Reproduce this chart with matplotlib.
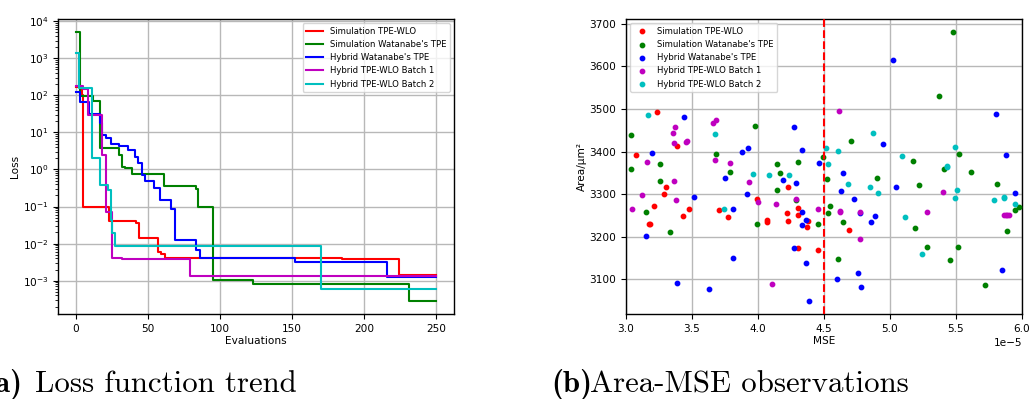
import numpy as np
import matplotlib
matplotlib.use("Agg")
import matplotlib.pyplot as plt

fontsize_tick = 7.6
fontsize_label = 7.6
fontsize_legend = 6.1
fontsize_caption = 22.2
linewidth_main = 1.5

labels = ["Simulation TPE-WLO", "Simulation Watanabe's TPE", "Hybrid Watanabe's TPE",
          "Hybrid TPE-WLO Batch 1", "Hybrid TPE-WLO Batch 2"]
colours = ['r', 'g', 'b', 'm', 'c']

# best loss so far: evaluation where it changes, new value
red_x = [0, 4, 5, 23, 42, 44, 57, 59, 62, 185, 224, 250]
red_y = [170, 105, 0.1, 0.041, 0.035, 0.0138, 0.006, 0.0052, 0.0040, 0.0038, 0.00145, 0.00145]
green_x = [0, 3, 12, 17, 30, 32, 34, 39, 61, 83, 85, 95, 123, 231, 250]
green_y = [5000, 98, 69, 3.8, 2.5, 1.2, 1.1, 0.76, 0.35, 0.3, 0.1, 0.00105, 0.00083, 0.00029, 0.00029]
blue_x = [0, 3, 9, 17, 18, 21, 24, 30, 36, 41, 43, 46, 48, 54, 58, 66, 69, 83, 86, 152, 182, 216, 250]
blue_y = [120, 68, 31, 18, 8.7, 7, 4.9, 4.2, 3.4, 2.2, 1.5, 0.72, 0.49, 0.32, 0.15, 0.085, 0.0126,
          0.0068, 0.0042, 0.0032, 0.0031, 0.00125, 0.00125]
magenta_x = [0, 5, 8, 18, 21, 25, 32, 79, 250]
magenta_y = [182, 150, 29, 2.5, 0.07, 0.0040, 0.0038, 0.0013, 0.0013]
cyan_x = [0, 2, 11, 17, 22, 24, 25, 27, 170, 250]
cyan_y = [1380, 155, 2.1, 0.37, 0.28, 0.044, 0.019, 0.0087, 0.0006, 0.0006]

# Area-MSE observations (MSE in units of 1e-5)
red_mse = [3.078, 3.235, 3.389, 3.306, 3.288, 3.215, 3.174, 3.180, 3.48, 3.435, 3.703, 3.771, 3.996,
           4.066, 4.066, 4.231, 4.218, 4.226, 4.304, 4.304, 4.380, 4.370, 4.301, 4.453, 4.691]
red_area = [3392, 3492, 3414, 3318, 3301, 3272, 3231, 3229, 3266, 3249, 3263, 3247, 3288,
            3240, 3234, 3317, 3256, 3238, 3268, 3252, 3238, 3224, 3174, 3170, 3216]
green_mse = [3.038, 3.038, 3.152, 3.260, 3.258, 3.333, 3.682, 3.791, 3.975, 3.996, 4.147, 4.168, 4.145,
             4.301, 4.289, 4.451, 4.489, 4.526, 4.547, 4.531, 4.607, 4.643, 4.706, 4.905, 5.368, 5.474,
             5.178, 5.216, 5.186, 5.28, 5.411, 5.522, 5.514, 5.456, 5.61, 5.719, 5.813, 5.889, 5.944, 5.980]
green_area = [3439, 3359, 3259, 3371, 3331, 3211, 3394, 3353, 3461, 3231, 3372, 3349, 3310,
              3376, 3286, 3230, 3388, 3336, 3273, 3255, 3147, 3235, 3424, 3338, 3531, 3680,
              3377, 3321, 3220, 3177, 3358, 3394, 3177, 3146, 3353, 3087, 3323, 3213, 3262, 3270]
blue_mse = [3.195, 3.152, 3.44, 3.513, 3.387, 3.632, 3.753, 3.814, 3.814, 3.879, 3.927, 3.920, 4.193,
            4.269, 4.334, 4.291, 4.332, 4.360, 4.332, 4.272, 4.362, 4.387, 4.460, 4.599, 4.643, 4.625,
            4.731, 4.774, 4.761, 4.779, 4.857, 4.887, 4.948, 5.019, 5.044, 5.805, 5.876, 5.947, 5.848]
blue_area = [3396, 3202, 3482, 3294, 3091, 3078, 3337, 3266, 3151, 3398, 3408, 3301, 3334,
             3458, 3403, 3327, 3257, 3240, 3227, 3173, 3138, 3050, 3374, 3100, 3349, 3307,
             3289, 3256, 3115, 3083, 3234, 3248, 3419, 3616, 3316, 3489, 3392, 3303, 3123]
magenta_mse = [3.048, 3.121, 3.162, 3.356, 3.374, 3.366, 3.452, 3.465, 3.361, 3.376, 3.660, 3.68, 3.672,
               3.789, 3.933, 3.998, 4.137, 4.107, 4.289, 4.458, 4.612, 4.618, 4.618, 4.776, 4.776,
               5.282, 5.401, 5.866, 5.878, 5.889, 5.901]
magenta_area = [3265, 3299, 3376, 3443, 3458, 3421, 3423, 3426, 3331, 3286, 3467, 3475, 3381,
                3373, 3329, 3281, 3277, 3090, 3289, 3266, 3496, 3261, 3258, 3258, 3195,
                3259, 3304, 3251, 3251, 3251, 3251]
cyan_mse = [3.167, 3.677, 3.745, 3.960, 4.084, 4.233, 4.516, 4.531, 4.609, 4.680, 4.847, 4.870, 4.910,
            5.092, 5.110, 5.241, 5.429, 5.435, 5.489, 5.509, 5.491, 5.785, 5.864, 5.864, 5.947]
cyan_area = [3486, 3442, 3266, 3348, 3346, 3346, 3409, 3370, 3401, 3324, 3316, 3443, 3303,
             3389, 3247, 3159, 3364, 3367, 3410, 3310, 3291, 3287, 3294, 3290, 3277]

mse_threshold = 4.5e-5
mse_scale = 1e-5

loss_x = [red_x, green_x, blue_x, magenta_x, cyan_x]
loss_y = [red_y, green_y, blue_y, magenta_y, cyan_y]
obs_mse = [red_mse, green_mse, blue_mse, magenta_mse, cyan_mse]
obs_area = [red_area, green_area, blue_area, magenta_area, cyan_area]


def style_axes(a):
    a.grid(True, color='#b8b8b8', linewidth=1.0)
    a.set_axisbelow(True)
    a.tick_params(labelsize=fontsize_tick)
    for s in a.spines.values():
        s.set_linewidth(1.0)


fig = plt.figure(figsize=(10.29, 3.99), dpi=100)
ax1 = fig.add_axes([58 / 1029, 1 - 314 / 399, 396 / 1029, 295 / 399])
ax2 = fig.add_axes([626 / 1029, 1 - 314 / 399, 396 / 1029, 295 / 399])

# (a) loss function trend
for xs, ys, c, lab in zip(loss_x, loss_y, colours, labels):
    ax1.plot(xs, ys, drawstyle='steps-post', c=c, linewidth=linewidth_main, label=lab)
ax1.set_yscale('log')
ax1.set_xticks([0, 50, 100, 150, 200, 250])
ax1.set_xlabel("Evaluations", fontsize=fontsize_label, labelpad=2)
ax1.set_ylabel("Loss", fontsize=fontsize_label, labelpad=2)
style_axes(ax1)
ax1.legend(loc='upper right', fontsize=fontsize_legend, framealpha=0.8)

# (b) Area-MSE observations
for xs, ys, c, lab in zip(obs_mse, obs_area, colours, labels):
    ax2.scatter(np.array(xs) * mse_scale, ys, s=10, c=c, label=lab, zorder=3)
ax2.axvline(mse_threshold, c='r', linestyle='--', linewidth=linewidth_main, zorder=4)
ax2.set_xlim(3e-5, 6e-5)
ax2.set_yticks([3100, 3200, 3300, 3400, 3500, 3600, 3700])
ax2.set_xlabel("MSE", fontsize=fontsize_label, labelpad=2)
ax2.set_ylabel("Area/\u03bcm\u00b2", fontsize=fontsize_label, labelpad=2)
ax2.xaxis.get_offset_text().set_fontsize(fontsize_tick)
style_axes(ax2)
ax2.legend(loc='upper left', fontsize=fontsize_legend, framealpha=0.8)

# captions (the (a) label runs off the left edge, as in the source)
cap_y = 1 - 392.5 / 399
fig.text(22 / 1029, cap_y, "(a)", family='cmb10', fontsize=fontsize_caption, ha='right')
fig.text(35 / 1029, cap_y, "Loss function trend", family='cmr10', fontsize=fontsize_caption)
fig.text(551 / 1029, cap_y, "(b)", family='cmb10', fontsize=fontsize_caption)
fig.text(590 / 1029, cap_y, "Area-MSE observations", family='cmr10', fontsize=fontsize_caption)

fig.savefig("out.png", dpi=100)
